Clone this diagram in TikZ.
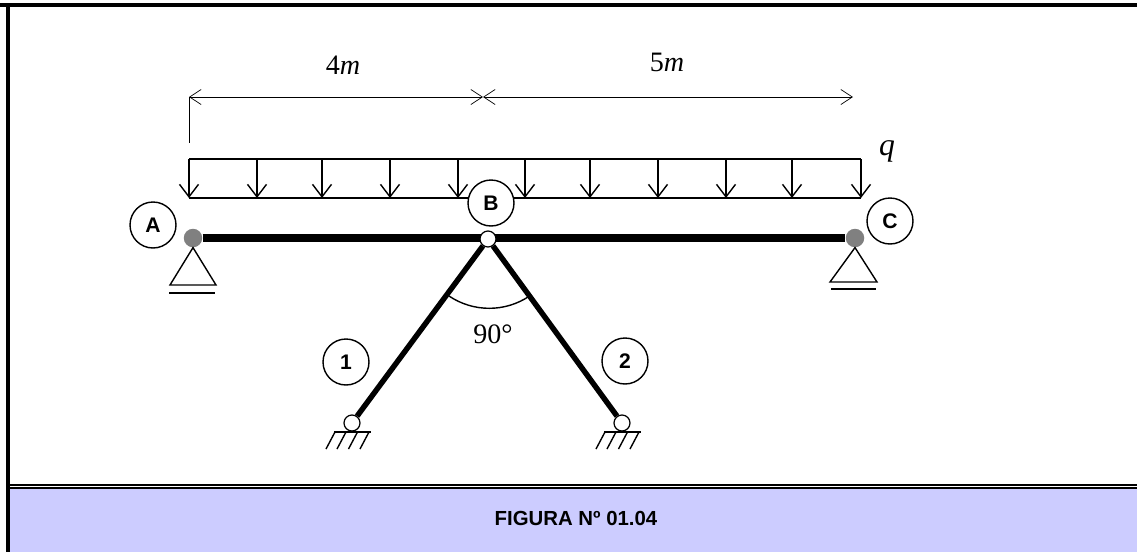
\documentclass[tikz,border=0pt]{standalone}
\usepackage{fontspec}
\setmainfont{Liberation Serif}
\newfontfamily\labelfont{Liberation Sans}
\usetikzlibrary{arrows.meta,backgrounds}
\definecolor{captionblue}{RGB}{204,204,255}
\definecolor{pingray}{RGB}{128,128,128}
\tikzset{
  memberlabel/.style={shape=circle, draw, line width=0.8pt, fill=white, inner sep=0, minimum size=0.92cm, font=\labelfont\bfseries\fontsize{12}{14}\selectfont},
  pinfixed/.style={shape=circle, fill=pingray, inner sep=0, minimum size=0.37cm},
  pinfree/.style={shape=circle, draw, line width=0.7pt, fill=white, inner sep=0, minimum size=0.32cm},
  dimtext/.style={font=\fontsize{16}{18}\selectfont},
  loadarrow/.style={line width=0.8pt, -{Straight Barb[length=0.25cm, width=0.38cm, line width=0.8pt]}},
  dimarrow/.style={line width=0.4pt, {Straight Barb[length=0.23cm, width=0.3cm, line width=0.4pt]}-{Straight Barb[length=0.23cm, width=0.3cm, line width=0.4pt]}}
}
\begin{document}
\begin{tikzpicture}[x=0.02cm, y=-0.02cm]
  \useasboundingbox (0,0) rectangle (1137,552);
  % Joints and labels:
  \node[pinfixed] (jointA) at (193,238) {};
  \node[pinfree] (jointB) at (488,239) {};
  \node[pinfixed] (jointC) at (855,238) {};
  \node[pinfree] (foot1) at (352,423) {};
  \node[pinfree] (foot2) at (622,423) {};
  \node[memberlabel] (labelA) at (153,225) {A};
  \node[memberlabel] (labelB) at (491,203) {B};
  \node[memberlabel] (labelC) at (890,221) {C};
  \node[memberlabel] (label1) at (346,362) {1};
  \node[memberlabel] (label2) at (625,361) {2};
  \node[dimtext] (len4) at (343,65) {4\textit{m}};
  \node[dimtext] (len5) at (667,62) {5\textit{m}};
  \node[font=\fontsize{18}{20}\selectfont\itshape] (loadq) at (887,151) {q};
  \node[dimtext] (angle) at (493,334) {90°};
  \node[font=\labelfont\bfseries\fontsize{11.6}{14}\selectfont] (caption) at (576,518) {FIGURA Nº 01.04};
  % Dimension lines:
  \coordinate (dimA) at (189,97);
  \coordinate (dimB) at (483,97);
  \coordinate (dimC) at (853,97);
  \coordinate (dimfoot) at (189,143);
  \draw[line width=0.5pt] (dimA) -- (dimfoot);
  \draw[dimarrow] (dimA) -- (dimB);
  \draw[dimarrow] (dimB) -- (dimC);
  % Distributed load:
  \coordinate (loadTL) at (189,159);
  \coordinate (loadTR) at (861,159);
  \draw[line width=0.8pt] (loadTL) -- (loadTR);
  \begin{pgfonlayer}{background}
    \fill[captionblue] (8,489) rectangle (1137,552);
    \draw[line width=2.3pt] (0,5) -- (1137,5);
    \draw[line width=2.3pt] (8,3) -- (8,552);
    \draw[line width=1.2pt] (8,485) -- (1137,485);
    \draw[line width=1.2pt] (8,488) -- (1137,488);
    \draw[line width=0.8pt] (189,198) -- (861,198);
    \foreach \x in {189,257,322,390,458,525,590,658,726,792,861}
      \draw[loadarrow] (\x,159) -- (\x,198);
    % Beam and members:
    \draw[line width=4.5pt] (jointA) -- (jointC);
    \draw[line width=3.1pt] (jointB) -- (foot1);
    \draw[line width=3.1pt] (jointB) -- (foot2);
  \end{pgfonlayer}
  % Angle arc:
  \draw[line width=0.8pt] (449,296) arc[start angle=124, end angle=56, radius=72];
  % Roller supports:
  \draw[line width=0.8pt] (jointA.south) -- (170,285) -- (216,285) -- cycle;
  \draw[line width=0.9pt] (169,293) -- (215,293);
  \draw[line width=0.8pt] (jointC.south) -- (830,282) -- (877,282) -- cycle;
  \draw[line width=0.9pt] (831,289) -- (876,289);
  % Fixed ground:
  \foreach \gx in {334,604} {
    \draw[line width=0.8pt] (\gx,432) -- (\gx+37,432);
    \foreach \hx in {1,12,23.5,35}
      \draw[line width=0.8pt] (\gx+\hx,432) -- (\gx+\hx-9,449);
  }
\end{tikzpicture}
\end{document}
